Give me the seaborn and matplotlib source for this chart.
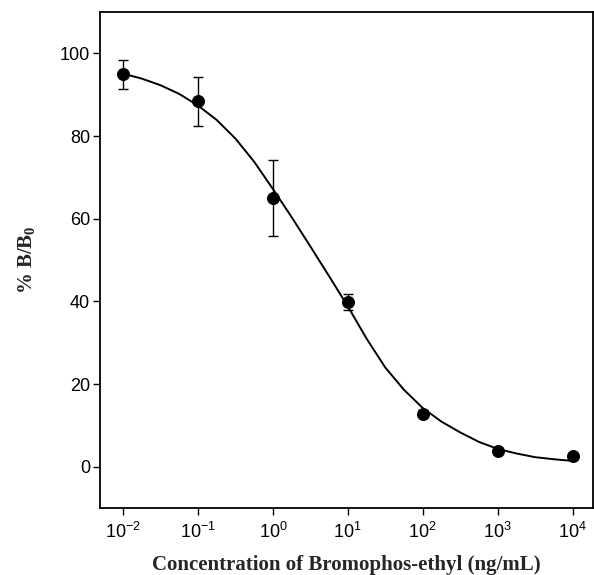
import seaborn as sns
import matplotlib.pyplot as plt
import numpy as np

# measured points (concentration in ng/mL, %B/B0, error bar half-widths)
conc = [0.01, 0.1, 1, 10, 100, 1000, 10000]
pct_b = [95.1, 88.4, 65.0, 39.8, 12.8, 3.8, 2.5]
err_low = [3.6, 6.0, 9.1, 2.0, 0.8, 0.6, 0.6]
err_high = [3.4, 5.9, 9.1, 2.0, 0.8, 0.6, 0.6]

# fitted curve (log10 of concentration)
fit_logx = [-2.0, -1.75, -1.5, -1.25, -1.0, -0.75, -0.5, -0.25, 0.0, 0.25, 0.5, 0.75,
            1.0, 1.25, 1.5, 1.75, 2.0, 2.25, 2.5, 2.75, 3.0, 3.25, 3.5, 3.75, 4.0]
fit_pct = [95.1, 93.9, 92.3, 90.2, 87.4, 83.9, 79.4, 73.8, 67.2, 60.4, 53.3, 46.1,
           38.8, 31.0, 24.0, 18.6, 14.2, 10.9, 8.3, 6.0, 4.3, 3.2, 2.3, 1.8, 1.4]

x_ticks = [0.01, 0.1, 1, 10, 100, 1000, 10000]
x_tick_labels = ['$\\mathrm{10^{-2}}$', '$\\mathrm{10^{-1}}$', '$\\mathrm{10^{0}}$',
                 '$\\mathrm{10^{1}}$', '$\\mathrm{10^{2}}$', '$\\mathrm{10^{3}}$',
                 '$\\mathrm{10^{4}}$']
y_ticks = [0, 20, 40, 60, 80, 100]

sns.set_style('ticks')
plt.rcParams['font.family'] = ['Liberation Sans', 'DejaVu Sans']
plt.rcParams['mathtext.fontset'] = 'custom'
plt.rcParams['mathtext.rm'] = 'Liberation Sans'
plt.rcParams['mathtext.it'] = 'Liberation Sans:italic'
plt.rcParams['mathtext.bf'] = 'Liberation Serif:bold'

fig = plt.figure(figsize=(5.94, 5.75), dpi=100)
ax = fig.add_axes([0.168, 0.1165, 0.83, 0.8625])

sns.lineplot(x=10 ** np.array(fit_logx), y=fit_pct, ax=ax, color='black', linewidth=1.4, zorder=2)
ax.errorbar(conc, pct_b, yerr=[err_low, err_high], fmt='none', ecolor='black',
            elinewidth=1.0, capsize=3.3, capthick=1.0, zorder=3)
sns.scatterplot(x=conc, y=pct_b, ax=ax, color='black', s=75, edgecolor='black', zorder=4)

ax.set_xscale('log')
ax.set_xlim(10 ** -2.31, 10 ** 4.27)
ax.set_ylim(-10, 110)
ax.set_xticks(x_ticks)
ax.set_xticklabels(x_tick_labels)
ax.xaxis.set_minor_locator(plt.NullLocator())
ax.set_yticks(y_ticks)

ax.tick_params(axis='both', which='major', labelsize=13, length=5, width=1.0,
               direction='out', colors='black', pad=2)
ax.tick_params(axis='x', pad=5)
for s in ax.spines.values():
    s.set_linewidth(1.3)
    s.set_color('black')

ax.set_xlabel('Concentration of Bromophos-ethyl (ng/mL)', fontsize=15, fontweight='bold',
              family='Liberation Serif', labelpad=9)
ax.set_ylabel('% B/B$_\\mathbf{0}$', fontsize=15, fontweight='bold',
              family='Liberation Serif', labelpad=16)

plt.savefig('out.png', dpi=100)
